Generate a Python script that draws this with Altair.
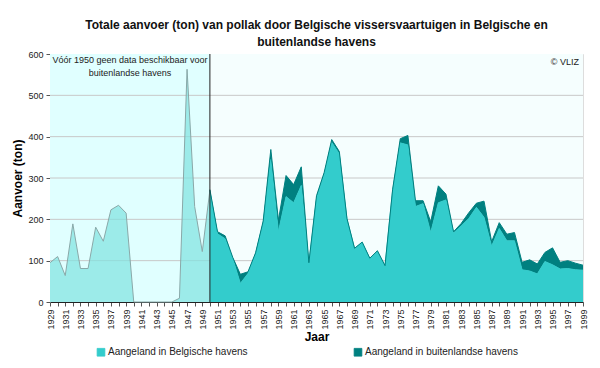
import altair as alt
import pandas as pd

# ---- data ----
years_pre = list(range(1929, 1951))
belg_pre = [95, 110, 64, 189, 81, 81, 181, 147, 223, 234, 215, 0, 0, 0, 0, 0, 0, 9, 563, 231, 122, 271]

years_post = list(range(1950, 2000))
belg_post = [268, 165, 153, 105, 45, 69, 117, 192, 345, 170,
             255, 240, 282, 93, 250, 308, 386, 358, 200, 129,
             144, 105, 123, 87, 270, 385, 380, 231, 238, 168,
             240, 247, 167, 184, 202, 229, 205, 135, 178, 148,
             148, 78, 75, 68, 98, 90, 80, 81, 78, 77]
foreign_post = [4, 5, 7, 3, 22, 4, 2, 4, 24, 28,
                51, 44, 45, 2, 7, 5, 7, 6, 2, 1,
                1, 1, 1, 1, 3, 10, 23, 14, 7, 26,
                41, 14, 3, 6, 14, 10, 39, 11, 14, 16,
                20, 18, 27, 24, 22, 41, 16, 19, 16, 12]

series = ["Aangeland in Belgische havens", "Aangeland in buitenlandse havens"]
series_colors = ["#33CCCC", "#008080"]

year_ticks = list(range(1929, 2000))
value_ticks = [0, 100, 200, 300, 400, 500, 600]
grid_vals = [100, 200, 300, 400, 500]
periods = [{"x": 1929, "x2": 1950, "y": 0, "y2": 600, "fill": "#E0FFFF"},
           {"x": 1950, "x2": 1999, "y": 0, "y2": 600, "fill": "#F5FEFE"}]

title_lines = ["Totale aanvoer (ton) van pollak door Belgische vissersvaartuigen in Belgische en",
               "buitenlandse havens"]
note_lines = ["Vóór 1950 geen data beschikbaar voor", "buitenlandse havens"]

FONT = "Liberation Sans"

# ---- tables ----
pre_df = pd.DataFrame({"year": years_pre, "value": belg_pre})
post_rows = []
for y, b, f in zip(years_post, belg_post, foreign_post):
    post_rows.append({"year": y, "value": b, "series": series[0], "ord": 0})
    post_rows.append({"year": y, "value": f, "series": series[1], "ord": 1})
post_df = pd.DataFrame(post_rows)
bg_df = pd.DataFrame(periods)
grid_df = pd.DataFrame({"v": grid_vals})

xscale = alt.Scale(domain=[1929, 1999], nice=False, zero=False)
yscale = alt.Scale(domain=[0, 600], nice=False)

x_axis = alt.Axis(values=year_ticks, labelExpr="datum.value % 2 == 1 ? format(datum.value, 'd') : ''",
                  labelAngle=270, labelFontSize=9, labelFont=FONT, tickSize=4, tickColor="#555",
                  domainColor="#222", grid=False, title="Jaar", titleFont=FONT, titleFontSize=12,
                  titleFontWeight="bold", titlePadding=2, labelPadding=3, labelOverlap=False,
                  labelColor="#222", labelBound=False, labelFlush=False)
y_axis = alt.Axis(values=value_ticks, labelFontSize=9, labelFont=FONT, tickSize=4, labelPadding=3,
                  tickColor="#555", domainColor="#888", grid=False, title="Aanvoer (ton)", titleFont=FONT,
                  titleFontSize=12, titleFontWeight="bold", titlePadding=3, labelColor="#222")


def X(field):
    return alt.X(field, scale=xscale, axis=x_axis, title="Jaar")


def Y(field, **kw):
    return alt.Y(field, scale=yscale, axis=y_axis, title="Aanvoer (ton)", **kw)


bg = alt.Chart(bg_df).mark_rect().encode(
    x=X("x:Q"), x2="x2:Q", y=Y("y:Q"), y2="y2:Q",
    fill=alt.Fill("fill:N", scale=None),
)

grid = alt.Chart(grid_df).mark_rule(color="#C8C8C8", strokeWidth=1).encode(y=Y("v:Q"))

pre_area = alt.Chart(pre_df).mark_area(color="#7FE3DF", line={"color": "#8AA8A8", "strokeWidth": 1}).encode(
    x=X("year:Q"), y=Y("value:Q"),
)

post_area = alt.Chart(post_df).mark_area(line={"color": "#1F4F4F", "strokeWidth": 1}, opacity=1).encode(
    x=X("year:Q"),
    y=Y("value:Q", stack="zero"),
    color=alt.Color("series:N", scale=alt.Scale(domain=series, range=series_colors),
                    legend=alt.Legend(title=None, orient="none", legendX=46, legendY=293, direction="horizontal",
                                      symbolType="square", symbolSize=60, symbolStrokeColor="#444",
                                      symbolStrokeWidth=0.8, labelFont=FONT, labelFontSize=10,
                                      labelColor="#222", columnPadding=91, gridAlign="all", symbolOffset=0,
                                      labelOffset=2, labelLimit=300)),
    order=alt.Order("ord:Q", sort="ascending"),
)

divider = alt.Chart(pd.DataFrame({"year": [1950]})).mark_rule(color="#222", strokeWidth=1).encode(
    x=X("year:Q"), y=alt.value(0), y2=alt.value(248)
)

note = alt.Chart(pd.DataFrame({"x": [1939.5], "y": [600]})).mark_text(
    text=note_lines, font=FONT, fontSize=9, baseline="top", dy=2, lineHeight=13, color="#222"
).encode(x=X("x:Q"), y=Y("y:Q"))

credit = alt.Chart(pd.DataFrame({"x": [1999], "y": [600]})).mark_text(
    text="© VLIZ", font=FONT, fontSize=9, baseline="top", align="right", dx=-4, dy=4, color="#222"
).encode(x=X("x:Q"), y=Y("y:Q"))

chart = alt.layer(bg, grid, pre_area, post_area, divider, note, credit).properties(
    width=533, height=248,
    title=alt.Title(text=title_lines, font=FONT, fontSize=12, fontWeight="bold", anchor="middle",
                    offset=1, color="#111", lineHeight=17),
    autosize=alt.AutoSizeParams(type="none"),
    padding={"left": 42, "top": 46, "right": 9, "bottom": 66},
).configure_view(stroke="#999", strokeWidth=1).configure_axisX(labelOverlap=False).configure(background="white")

chart.save("out.html", embed_options={"renderer": "svg", "actions": False})
